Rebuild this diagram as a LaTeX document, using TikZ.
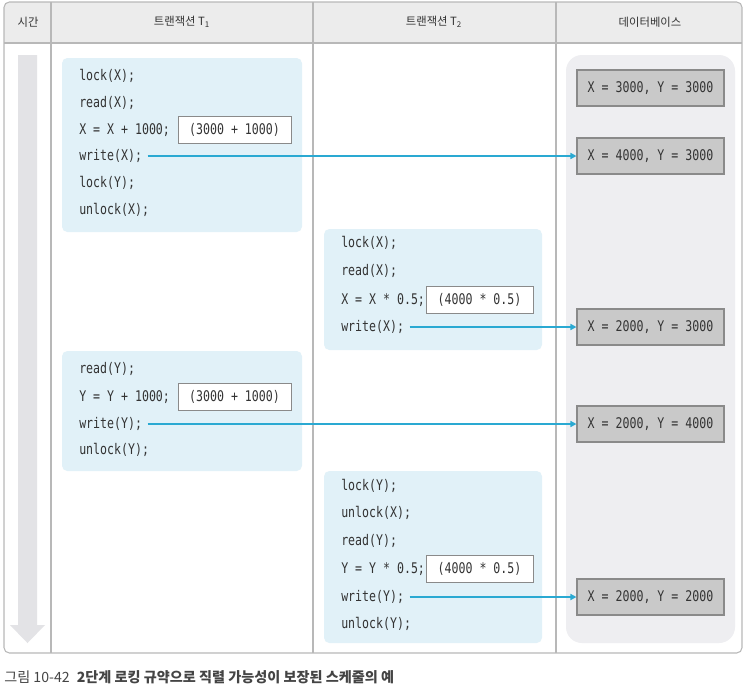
\documentclass[tikz,border=0pt]{standalone}
\usepackage{fontspec}
\setmainfont{Noto Sans CJK KR}
\newfontfamily\krfont{Noto Sans CJK KR}
\newfontfamily\codefont{DejaVu Sans Mono}[FakeStretch=0.79]
\usetikzlibrary{arrows.meta}
\definecolor{tline}{HTML}{B8B8B8}
\definecolor{headfill}{HTML}{ECECEC}
\definecolor{boxblue}{HTML}{E1F1F8}
\definecolor{dbpanel}{HTML}{EEEEF1}
\definecolor{dbfill}{HTML}{C9C9C9}
\definecolor{dbline}{HTML}{8A8A8A}
\definecolor{arrblue}{HTML}{2AA9D2}
\definecolor{timebar}{HTML}{E3E3E6}
\definecolor{txt}{HTML}{333333}
\definecolor{captxt}{HTML}{444444}
\tikzset{
  headtxt/.style={font=\krfont\fontsize{8.5}{10}\selectfont, text=txt, inner sep=0pt},
  code/.style={font=\codefont\fontsize{11}{13}\selectfont, text=txt, inner sep=0pt, anchor=west},
  tbox/.style={fill=boxblue, rounded corners=4pt, minimum width=#1},
  calcbox/.style={draw=dbline, fill=white, line width=0.6pt, minimum width=113*0.75pt, minimum height=27*0.75pt, font=\codefont\fontsize{11}{13}\selectfont, text=txt, inner sep=0pt},
  dbbox/.style={draw=dbline, fill=dbfill, line width=0.8pt, minimum width=147*0.75pt, minimum height=36*0.75pt, font=\codefont\fontsize{11}{13}\selectfont, text=txt, inner sep=0pt},
  arr/.style={draw=arrblue, line width=1.5pt, -{Triangle[length=4.5pt,width=4.5pt]}},
}
\begin{document}
\begin{tikzpicture}[x=0.75pt,y=-0.75pt]
\useasboundingbox (0,0) rectangle (745,690);
% table
\begin{scope}
\clip[rounded corners=4pt] (4,2) rectangle (742,653);
\fill[white] (4,2) rectangle (742,653);
\fill[headfill] (4,2) rectangle (742,43);
\end{scope}
\draw[tline, line width=0.8pt] (4,43) -- (742,43);
\draw[tline, line width=0.8pt] (51,2) -- (51,653);
\draw[tline, line width=0.8pt] (313,2) -- (313,653);
\draw[tline, line width=0.8pt] (556,2) -- (556,653);
\draw[tline, line width=0.8pt, rounded corners=4pt] (4,2) rectangle (742,653);
% headers
\node[headtxt] (h0) at (28,22) {시간};
\node[headtxt] (h1) at (182,22) {트랜잭션 T\textsubscript{1}};
\node[headtxt] (h2) at (434,22) {트랜잭션 T\textsubscript{2}};
\node[headtxt] (h3) at (650,22) {데이터베이스};
% time arrow
\fill[timebar] (18,55) -- (37,55) -- (37,625) -- (45,625) -- (27.5,643) -- (10,625) -- (18,625) -- cycle;
% panels
\node[tbox=240*0.75pt, minimum height=174*0.75pt] (t1a) at (182,145) {};
\node[tbox=218*0.75pt, minimum height=121*0.75pt] (t2a) at (433,289.5) {};
\node[tbox=240*0.75pt, minimum height=120*0.75pt] (t1b) at (182,411) {};
\node[tbox=218*0.75pt, minimum height=172*0.75pt] (t2b) at (433,557) {};
\node[fill=dbpanel, rounded corners=12pt, minimum width=169*0.75pt, minimum height=588*0.75pt] (dbp) at (650.5,349) {};
% T1 first block
\node[code] (a1) at (79,76) {lock(X);};
\node[code] (a2) at (79,103) {read(X);};
\node[code] (a3) at (79,130) {X = X + 1000;};
\node[calcbox] (a3c) at (234.5,130) {(3000 + 1000)};
\node[code] (a4) at (79,156) {write(X);};
\node[code] (a5) at (79,183) {lock(Y);};
\node[code] (a6) at (79,210) {unlock(X);};
% T2 first block
\node[code] (b1) at (341,243) {lock(X);};
\node[code] (b2) at (341,271) {read(X);};
\node[code] (b3) at (341,300) {X = X * 0.5;};
\node[calcbox, minimum width=107*0.75pt] (b3c) at (479.5,300) {(4000 * 0.5)};
\node[code] (b4) at (341,327) {write(X);};
% T1 second block
\node[code] (c1) at (79,369) {read(Y);};
\node[code] (c2) at (79,397) {Y = Y + 1000;};
\node[calcbox] (c2c) at (234.5,397) {(3000 + 1000)};
\node[code] (c3) at (79,424) {write(Y);};
\node[code] (c4) at (79,450) {unlock(Y);};
% T2 second block
\node[code] (d1) at (341,486) {lock(Y);};
\node[code] (d2) at (341,513) {unlock(X);};
\node[code] (d3) at (341,541) {read(Y);};
\node[code] (d4) at (341,569) {Y = Y * 0.5;};
\node[calcbox, minimum width=107*0.75pt] (d4c) at (479.5,569) {(4000 * 0.5)};
\node[code] (d5) at (341,597) {write(Y);};
\node[code] (d6) at (341,624) {unlock(Y);};
% database states
\node[dbbox] (db1) at (650.5,88) {X = 3000, Y = 3000};
\node[dbbox] (db2) at (650.5,156) {X = 4000, Y = 3000};
\node[dbbox] (db3) at (650.5,327) {X = 2000, Y = 3000};
\node[dbbox] (db4) at (650.5,424) {X = 2000, Y = 4000};
\node[dbbox] (db5) at (650.5,597) {X = 2000, Y = 2000};
% arrows
\draw[arr] ([xshift=4pt]a4.east) -- (db2.west);
\draw[arr] ([xshift=4pt]b4.east) -- (db3.west);
\draw[arr] ([xshift=4pt]c3.east) -- (db4.west);
\draw[arr] ([xshift=4pt]d5.east) -- (db5.west);
% caption
\node[anchor=west, inner sep=0pt, text=captxt, font=\krfont\fontsize{10.6}{12}\selectfont] (cap) at (4,677) {그림 10-42\hspace{0.5em}\bfseries 2단계 로킹 규약으로 직렬 가능성이 보장된 스케줄의 예};
\end{tikzpicture}
\end{document}
